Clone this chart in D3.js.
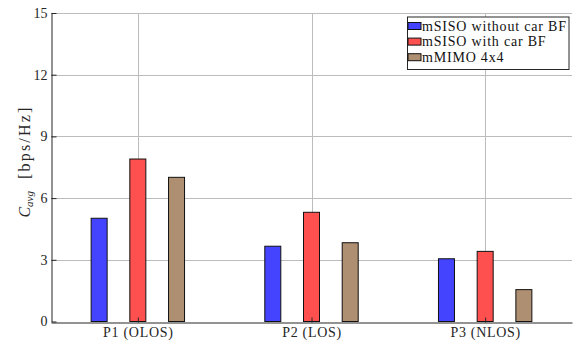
<!DOCTYPE html>
<html>
<head>
<meta charset="utf-8">
<script src="https://cdn.jsdelivr.net/npm/d3@7"></script>
<style>
  html, body { margin: 0; padding: 0; background: #fff; }
  svg { display: block; }
</style>
</head>
<body>
<svg id="chart" width="576" height="347"></svg>
<script>
// Average capacity per position and scheme
const categories = ["P1 (OLOS)", "P2 (LOS)", "P3 (NLOS)"];
const seriesNames = ["mSISO without car BF", "mSISO with car BF", "mMIMO 4x4"];
const sisoNoBF = [5.02, 3.66, 3.05];
const sisoBF = [7.9, 5.31, 3.41];
const mimo4x4 = [7.01, 3.83, 1.55];
const yTicks = [0, 3, 6, 9, 12, 15];
const colors = ["#4444ff", "#ff5050", "#ae8f71"];

const series = [sisoNoBF, sisoBF, mimo4x4];
const SERIF = "'Liberation Serif'";

const svg = d3.select("#chart");
const margin = { left: 51, right: 4, top: 13, bottom: 25.5 };
const W = 576, H = 347;
const x0 = margin.left, x1 = W - margin.right;
const yTop = margin.top, yBot = H - margin.bottom;

const x = d3.scaleLinear().domain([0.5, 3.5]).range([x0, x1]);
const y = d3.scaleLinear().domain([0, 15]).range([yBot, yTop]);

const barW = 16;
const offset = 38.7;

// grid
const grid = svg.append("g");
grid.selectAll("line.h").data(yTicks.filter(t => t > 0)).join("line")
  .attr("x1", x0).attr("x2", x1)
  .attr("y1", d => Math.round(y(d)) + 0.5).attr("y2", d => Math.round(y(d)) + 0.5)
  .attr("stroke", "#bcbcbc").attr("stroke-width", 1);
grid.selectAll("line.v").data(categories.map((c, i) => i + 1)).join("line")
  .attr("x1", d => Math.round(x(d)) + 0.5).attr("x2", d => Math.round(x(d)) + 0.5)
  .attr("y1", yTop).attr("y2", yBot)
  .attr("stroke", "#bcbcbc").attr("stroke-width", 1);

// bars
series.forEach((vals, s) => {
  svg.append("g").selectAll("rect").data(vals).join("rect")
    .attr("x", (d, i) => x(i + 1) + (s - 1) * offset - barW / 2)
    .attr("width", barW)
    .attr("y", d => y(d))
    .attr("height", d => y(0) - y(d))
    .attr("fill", colors[s])
    .attr("stroke", "#111").attr("stroke-width", 1);
});

// y axis
const yAxis = d3.axisLeft(y).tickValues(yTicks).tickSizeInner(-5).tickSizeOuter(0).tickPadding(4);
const gy = svg.append("g").attr("transform", `translate(${x0 + 0.5},0)`).call(yAxis)
  .attr("font-family", null).attr("font-size", null);
gy.select(".domain").attr("stroke", "#262626");
gy.selectAll(".tick line").attr("stroke", "#262626");
gy.selectAll(".tick text").style("font-size", "14px").style("font-family", SERIF).attr("fill", "#262626");

// x axis
const xAxis = d3.axisBottom(x).tickValues([1, 2, 3]).tickFormat((d) => categories[d - 1])
  .tickSizeInner(-5).tickSizeOuter(0).tickPadding(4.5);
const gx = svg.append("g").attr("transform", `translate(0,${Math.round(yBot) + 0.5})`).call(xAxis)
  .attr("font-family", null).attr("font-size", null);
gx.select(".domain").attr("stroke", "#262626");
gx.selectAll(".tick line").attr("stroke", "#262626");
gx.selectAll(".tick text").style("font-size", "14px").style("font-family", SERIF)
  .style("letter-spacing", "0.7px").attr("fill", "#262626");

// y label: C_avg [bps/Hz]
const yl = svg.append("text")
  .attr("transform", `translate(30,161.5) rotate(-90)`)
  .attr("text-anchor", "middle").style("font-size", "16px").style("font-family", SERIF)
  .attr("fill", "#262626");
yl.append("tspan").style("font-style", "italic").text("C");
yl.append("tspan").style("font-style", "italic").style("font-size", "11px").attr("dy", 3).text("avg");
yl.append("tspan").attr("dy", -3).attr("dx", 12).style("letter-spacing", "2.2px").text("[bps/Hz]");

// legend
const lg = svg.append("g");
const lx = 407, ly = 16.5, lw = 161.5, lh = 52.5;
lg.append("rect").attr("x", lx + 0.5).attr("y", ly + 0.5).attr("width", lw).attr("height", lh)
  .attr("fill", "#fff").attr("stroke", "#262626").attr("stroke-width", 1);
seriesNames.forEach((name, i) => {
  const ry = ly + 6 + i * 15.6;
  lg.append("rect").attr("x", lx + 1).attr("y", ry).attr("width", 13).attr("height", 7)
    .attr("fill", colors[i]).attr("stroke", "#111").attr("stroke-width", 1);
  lg.append("text").attr("x", lx + 15).attr("y", ry + 8)
    .style("font-size", "14px").style("font-family", SERIF).style("letter-spacing", "0.8px")
    .attr("fill", "#111").text(name);
});
</script>
</body>
</html>
